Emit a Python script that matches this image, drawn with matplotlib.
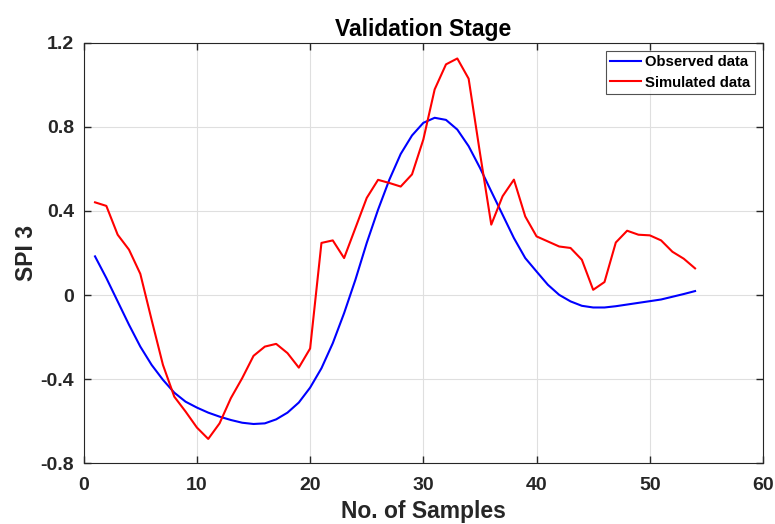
import matplotlib.pyplot as plt
import numpy as np

# === Data ===
samples = np.arange(1, 55)

observed = [0.184, 0.081, -0.030, -0.141, -0.245, -0.332, -0.403, -0.464, -0.507, -0.535,
            -0.559, -0.578, -0.594, -0.607, -0.613, -0.610, -0.591, -0.559, -0.511, -0.440,
            -0.348, -0.229, -0.086, 0.073, 0.248, 0.406, 0.549, 0.671, 0.759, 0.819,
            0.843, 0.833, 0.787, 0.708, 0.605, 0.493, 0.382, 0.271, 0.176, 0.112,
            0.049, 0.001, -0.030, -0.051, -0.059, -0.059, -0.053, -0.045, -0.037, -0.029,
            -0.021, -0.008, 0.005, 0.019]

simulated = [0.441, 0.424, 0.287, 0.216, 0.101, -0.118, -0.332, -0.483, -0.554, -0.630,
             -0.684, -0.610, -0.490, -0.395, -0.289, -0.245, -0.232, -0.276, -0.345, -0.254,
             0.248, 0.260, 0.176, 0.319, 0.462, 0.548, 0.533, 0.516, 0.574, 0.740,
             0.978, 1.097, 1.125, 1.029, 0.676, 0.335, 0.470, 0.549, 0.374, 0.279,
             0.255, 0.231, 0.224, 0.168, 0.025, 0.062, 0.250, 0.306, 0.287, 0.284,
             0.260, 0.206, 0.173, 0.127]

xticks = [0, 10, 20, 30, 40, 50, 60]
yticks = [-0.8, -0.4, 0, 0.4, 0.8, 1.2]
ytick_labels = ['-0.8', '-0.4', '0', '0.4', '0.8', '1.2']

# === Style ===
plt.rcParams['font.family'] = ['Liberation Sans', 'DejaVu Sans']
plt.rcParams['font.weight'] = 'bold'
txt = '#262626'

fig = plt.figure(figsize=(7.75, 5.24), dpi=100)
ax = fig.add_axes([0.108, 0.1158, 0.8765, 0.8027])

ax.plot(samples, observed, color='#0000ff', linewidth=1.5, label='Observed data')
ax.plot(samples, simulated, color='#ff0000', linewidth=1.5, label='Simulated data')

ax.set_xlim(0, 60)
ax.set_ylim(-0.8, 1.2)
ax.set_xticks(xticks)
ax.set_yticks(yticks)
ax.set_yticklabels(ytick_labels)

ax.tick_params(direction='in', length=5, width=1, colors=txt, labelsize=14,
               top=True, right=True)
ax.tick_params(axis='x', pad=10)
ax.tick_params(axis='y', pad=7)
for lbl in ax.get_xticklabels() + ax.get_yticklabels():
    lbl.set_fontweight('bold')

for s in ax.spines.values():
    s.set_color('#262626')
    s.set_linewidth(0.8)

ax.grid(True, color='#dfdfdf', linewidth=0.8)
ax.set_axisbelow(True)

ax.set_title('Validation Stage', fontsize=16.5, weight='bold', color='black', pad=5)
ax.set_xlabel('No. of Samples', fontsize=16.5, weight='bold', color=txt, labelpad=4)
ax.set_ylabel('SPI 3', fontsize=16.5, weight='bold', color=txt, labelpad=2)

leg = ax.legend(loc='upper right', fontsize=10.7, frameon=True, fancybox=False,
                edgecolor='#262626', handlelength=2.1, handletextpad=0.25,
                borderpad=0.3, labelspacing=0.42, borderaxespad=0.55)
leg.get_frame().set_linewidth(0.8)
for t in leg.get_texts():
    t.set_fontweight('bold')

plt.savefig('out.png', dpi=100)
